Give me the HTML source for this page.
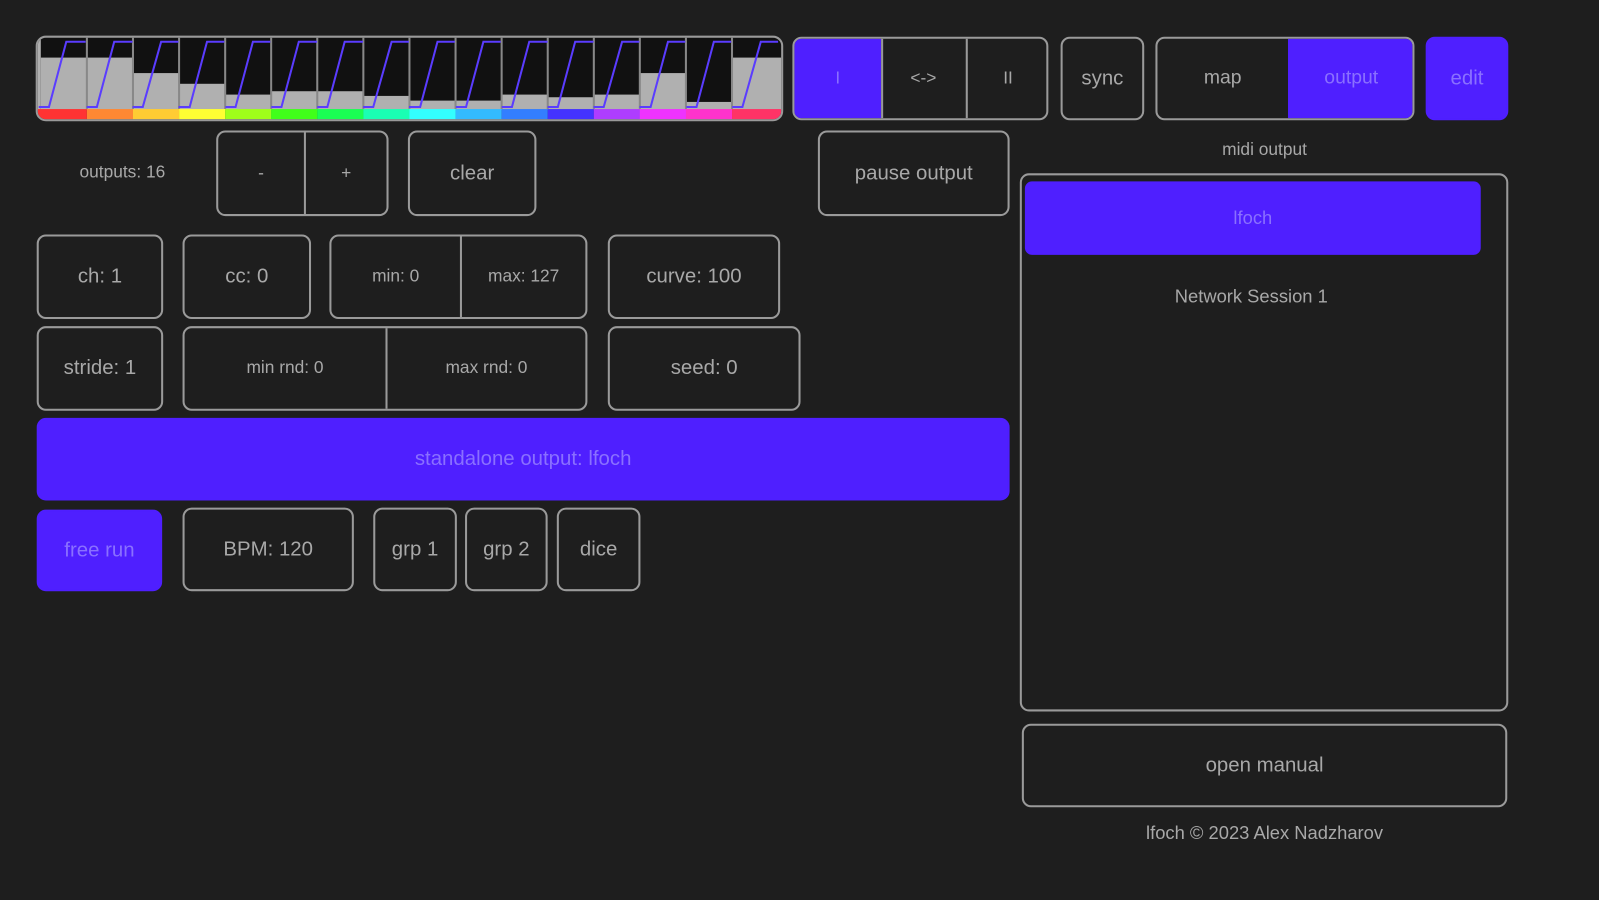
<!DOCTYPE html>
<html><head><meta charset="utf-8"><style>
html,body{margin:0;padding:0;background:#1e1e1e;width:1599px;height:900px;overflow:hidden}
#w{position:absolute;left:0;top:0;width:1568px;height:883px;transform:scale(1.0198,1.0193);transform-origin:0 0;font-family:"Liberation Sans",sans-serif;color:#a8a8a8}
.b{position:absolute;box-sizing:border-box;border:2px solid #9a9a9a;border-radius:9px;display:flex;align-items:center;justify-content:center;font-size:20px;background:#1e1e1e}
.p{background:#4f1fff;border-color:#4f1fff;color:#8a70ff}
.s{font-size:17px}
.seg{position:absolute;top:0;bottom:0;border-left:2px solid #9a9a9a}
.t{position:absolute;font-size:17px;text-align:center}
</style></head><body><div id="w">
<svg style="position:absolute;left:0;top:0" width="780" height="130" viewBox="0 0 780 130">
<defs><clipPath id="c"><rect x="37" y="37" width="729" height="80" rx="8"/></clipPath></defs>
<g clip-path="url(#c)">
<rect x="36" y="36" width="731" height="82" fill="#111"/>
<g fill="#b0b0b0">
<rect x="40" y="56.5" width="45.3" height="51"/>
<rect x="85.2" y="56.5" width="45.3" height="51"/>
<rect x="130.4" y="71.7" width="45.3" height="36"/>
<rect x="175.6" y="82.2" width="45.3" height="26"/>
<rect x="220.8" y="92.8" width="45.3" height="15"/>
<rect x="265.9" y="89.5" width="45.3" height="18"/>
<rect x="311.1" y="89.5" width="45.3" height="18"/>
<rect x="356.3" y="94.1" width="45.3" height="14"/>
<rect x="401.5" y="98.7" width="45.3" height="9"/>
<rect x="446.7" y="98.7" width="45.3" height="9"/>
<rect x="491.9" y="92.8" width="45.3" height="15"/>
<rect x="537.1" y="95.4" width="45.3" height="12"/>
<rect x="582.3" y="92.8" width="45.3" height="15"/>
<rect x="627.4" y="71.7" width="45.3" height="36"/>
<rect x="672.6" y="100" width="45.3" height="8"/>
<rect x="717.8" y="56.5" width="49" height="51"/>
</g>
<rect x="36" y="36" width="4" height="72" fill="#b0b0b0"/>
<g stroke="#888" stroke-width="2">
<line x1="85.2" y1="36" x2="85.2" y2="107"/><line x1="130.4" y1="36" x2="130.4" y2="107"/><line x1="175.6" y1="36" x2="175.6" y2="107"/><line x1="220.8" y1="36" x2="220.8" y2="107"/><line x1="265.9" y1="36" x2="265.9" y2="107"/><line x1="311.1" y1="36" x2="311.1" y2="107"/><line x1="356.3" y1="36" x2="356.3" y2="107"/><line x1="401.5" y1="36" x2="401.5" y2="107"/><line x1="446.7" y1="36" x2="446.7" y2="107"/><line x1="491.9" y1="36" x2="491.9" y2="107"/><line x1="537.1" y1="36" x2="537.1" y2="107"/><line x1="582.3" y1="36" x2="582.3" y2="107"/><line x1="627.4" y1="36" x2="627.4" y2="107"/><line x1="672.6" y1="36" x2="672.6" y2="107"/><line x1="717.8" y1="36" x2="717.8" y2="107"/>
</g>
<rect x="36" y="107" width="49.2" height="12" fill="hsl(0,100%,60%)"/>
<rect x="85.2" y="107" width="45.3" height="12" fill="hsl(25,100%,60%)"/>
<rect x="130.4" y="107" width="45.3" height="12" fill="hsl(45,100%,60%)"/>
<rect x="175.6" y="107" width="45.3" height="12" fill="hsl(60,100%,60%)"/>
<rect x="220.8" y="107" width="45.3" height="12" fill="hsl(85,100%,55%)"/>
<rect x="265.9" y="107" width="45.3" height="12" fill="hsl(110,100%,55%)"/>
<rect x="311.1" y="107" width="45.3" height="12" fill="hsl(135,100%,55%)"/>
<rect x="356.3" y="107" width="45.3" height="12" fill="hsl(160,100%,55%)"/>
<rect x="401.5" y="107" width="45.3" height="12" fill="hsl(180,100%,60%)"/>
<rect x="446.7" y="107" width="45.3" height="12" fill="hsl(200,100%,60%)"/>
<rect x="491.9" y="107" width="45.3" height="12" fill="hsl(218,100%,60%)"/>
<rect x="537.1" y="107" width="45.3" height="12" fill="hsl(245,100%,60%)"/>
<rect x="582.3" y="107" width="45.3" height="12" fill="hsl(275,100%,62%)"/>
<rect x="627.4" y="107" width="45.3" height="12" fill="hsl(295,100%,60%)"/>
<rect x="672.6" y="107" width="45.3" height="12" fill="hsl(315,100%,60%)"/>
<rect x="717.8" y="107" width="50" height="12" fill="hsl(345,100%,60%)"/>
<g fill="none" stroke="#5a3cff" stroke-width="2">
<polyline points="38,105 48,105 65,41 84,41"/>
<polyline points="85,105 95,105 112,41 130,41"/>
<polyline points="130,105 140,105 158,41 175,41"/>
<polyline points="175,105 186,105 203,41 220,41"/>
<polyline points="221,105 231,105 248,41 265,41"/>
<polyline points="266,105 276,105 293,41 311,41"/>
<polyline points="311,105 321,105 338,41 356,41"/>
<polyline points="356,105 366,105 384,41 401,41"/>
<polyline points="401,105 412,105 429,41 446,41"/>
<polyline points="447,105 457,105 474,41 491,41"/>
<polyline points="492,105 502,105 519,41 537,41"/>
<polyline points="537,105 547,105 564,41 582,41"/>
<polyline points="582,105 592,105 610,41 627,41"/>
<polyline points="627,105 638,105 655,41 672,41"/>
<polyline points="673,105 683,105 700,41 717,41"/>
<polyline points="718,105 728,105 746,41 763,41"/>
</g>
</g>
<rect x="36" y="36" width="731" height="82" rx="9" fill="none" stroke="#9a9a9a" stroke-width="2"/>
</svg>
<div class="b" style="left:777px;top:36px;width:251px;height:82px;overflow:hidden">
 <div style="position:absolute;left:0;top:0;bottom:0;width:85px;background:#4f1fff"></div>
 <div class="t" style="left:0;width:85px;top:29px;color:#8a70ff">I</div>
 <div class="seg" style="left:85px"></div><div class="t" style="left:85px;width:83px;top:29px">&lt;-&gt;</div>
 <div class="seg" style="left:168px"></div><div class="t" style="left:168px;width:83px;top:29px">II</div>
</div>
<div class="b" style="left:1040px;top:36px;width:82px;height:82px">sync</div>
<div class="b" style="left:1133px;top:36px;width:254px;height:82px;overflow:hidden">
 <div style="position:absolute;left:128px;top:0;bottom:0;right:0;background:#4f1fff"></div>
 <div class="t" style="left:0;width:128px;top:28px;font-size:19px">map</div>
 <div class="t" style="left:128px;width:124px;top:28px;font-size:19px;color:#8a70ff">output</div>
</div>
<div class="b p" style="left:1398px;top:36px;width:81px;height:82px">edit</div>
<div class="t" style="left:50px;width:140px;top:159px">outputs: 16</div>
<div class="b" style="left:212px;top:128px;width:169px;height:84px"><div class="seg" style="left:84px"></div>
 <div class="t" style="left:0;width:84px;top:30px">-</div><div class="t" style="left:84px;width:83px;top:30px">+</div></div>
<div class="b" style="left:400px;top:128px;width:126px;height:84px">clear</div>
<div class="b" style="left:802px;top:128px;width:188px;height:84px">pause output</div>
<div class="t" style="left:1140px;width:200px;top:137px">midi output</div>
<div class="b" style="left:1000px;top:170px;width:479px;height:528px;display:block">
 <div style="position:absolute;left:3px;top:6px;width:447px;height:72px;background:#4f1fff;border-radius:7px;color:#8a70ff;font-size:18px;display:flex;align-items:center;justify-content:center">lfoch</div>
 <div class="t" style="left:0;width:450px;top:109px;font-size:18px">Network Session 1</div>
</div>
<div class="b" style="left:36px;top:230px;width:124px;height:83px">ch: 1</div>
<div class="b" style="left:179px;top:230px;width:126px;height:83px">cc: 0</div>
<div class="b s" style="left:323px;top:230px;width:253px;height:83px"><div class="seg" style="left:126px"></div>
 <div class="t" style="left:0;width:126px;top:29px">min: 0</div><div class="t" style="left:126px;width:125px;top:29px">max: 127</div></div>
<div class="b" style="left:596px;top:230px;width:169px;height:83px">curve: 100</div>
<div class="b" style="left:36px;top:320px;width:124px;height:83px">stride: 1</div>
<div class="b s" style="left:179px;top:320px;width:397px;height:83px"><div class="seg" style="left:197px"></div>
 <div class="t" style="left:0;width:197px;top:29px">min rnd: 0</div><div class="t" style="left:197px;width:198px;top:29px">max rnd: 0</div></div>
<div class="b" style="left:596px;top:320px;width:189px;height:83px">seed: 0</div>
<div class="b p" style="left:36px;top:410px;width:954px;height:81px">standalone output: lfoch</div>
<div class="b p" style="left:36px;top:500px;width:123px;height:80px">free run</div>
<div class="b" style="left:179px;top:498px;width:168px;height:82px">BPM: 120</div>
<div class="b" style="left:366px;top:498px;width:82px;height:82px">grp 1</div>
<div class="b" style="left:456px;top:498px;width:81px;height:82px">grp 2</div>
<div class="b" style="left:546px;top:498px;width:82px;height:82px">dice</div>
<div class="b" style="left:1002px;top:710px;width:476px;height:82px">open manual</div>
<div class="t" style="left:1040px;width:400px;top:807px;font-size:18px">lfoch © 2023 Alex Nadzharov</div>
</div>
</body></html>
